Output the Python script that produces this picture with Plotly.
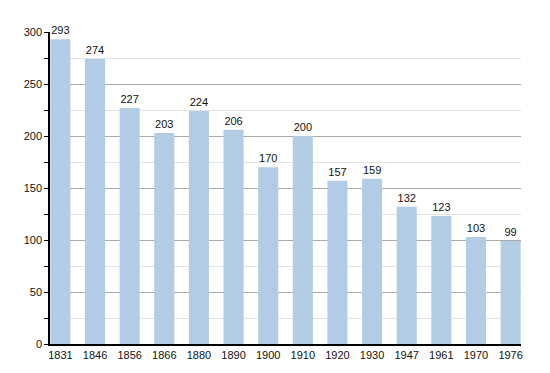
import plotly.graph_objects as go

years = ["1831", "1846", "1856", "1866", "1880", "1890", "1900", "1910", "1920", "1930", "1947", "1961", "1970", "1976"]
population = [293, 274, 227, 203, 224, 206, 170, 200, 157, 159, 132, 123, 103, 99]

fig = go.Figure(go.Bar(
    x=years, y=population,
    marker=dict(color="#b3cce5", line=dict(width=0)),
    text=[str(v) for v in population],
    textposition="outside",
    textfont=dict(size=11, color="#111111", family="Liberation Sans, Arial"),
    cliponaxis=False,
))

# the page body adds an 8px margin, so the figure is sized to fit the window
fig.update_layout(
    width=542, height=365,
    margin=dict(l=42, r=29, t=24, b=29, autoexpand=False),
    plot_bgcolor="white", paper_bgcolor="white",
    bargap=0.42,
    showlegend=False,
    font=dict(family="Liberation Sans, Arial", size=11, color="#111111"),
)
fig.update_xaxes(
    type="category", range=[-0.3, 13.3], automargin=False,
    showline=True, linecolor="black", linewidth=1.5,
    ticks="", showgrid=False, tickfont=dict(size=11),
)
fig.update_yaxes(
    range=[0, 300], dtick=50, automargin=False,
    showline=True, linecolor="black", linewidth=1.5,
    ticks="outside", ticklen=4, tickcolor="black",
    showgrid=True, gridcolor="#aaaaaa", gridwidth=1,
    zeroline=False,
    minor=dict(dtick=25, showgrid=True, gridcolor="#e3e3e3", ticks="outside", ticklen=4, tickcolor="black"),
    tickfont=dict(size=11),
)

fig.write_html("out.html")
